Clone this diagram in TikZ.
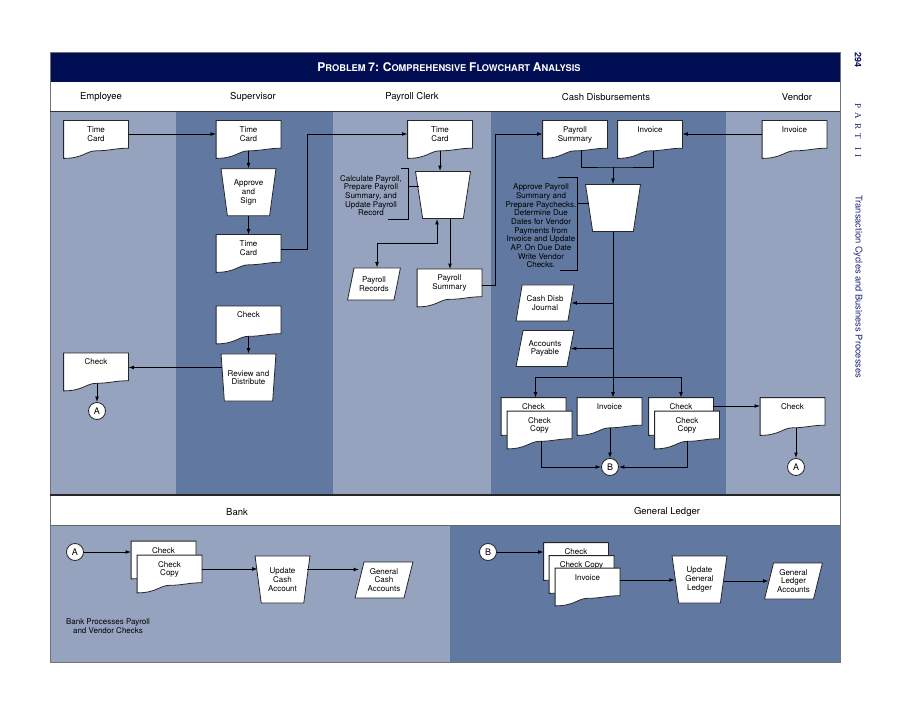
\documentclass[tikz,border=0pt]{standalone}
\usepackage{fontspec}
\setmainfont{TeX Gyre Heros}
\newfontfamily\partfont{Liberation Serif}
\usetikzlibrary{shapes.geometric, arrows, arrows.meta, positioning, calc}
\definecolor{laneLight}{RGB}{150,163,190}
\definecolor{laneDark}{RGB}{97,120,160}
\definecolor{titleBlue}{RGB}{2,14,84}
\definecolor{sideBlue}{RGB}{28,38,118}
\tikzstyle{arrow} = [line width=0.9pt,->,>={Latex[length=5.5pt,width=3.8pt]}]

% fake small caps for the title
\newcommand{\scw}[2]{{\fontsize{12}{12}\selectfont #1}{\fontsize{9.3}{10}\selectfont #2}}

% document symbol with a wavy bottom
\makeatletter
\pgfdeclareshape{docwave}{
  \inheritsavedanchors[from=rectangle]
  \inheritanchorborder[from=rectangle]
  \inheritanchor[from=rectangle]{center}
  \inheritanchor[from=rectangle]{north}
  \inheritanchor[from=rectangle]{south}
  \inheritanchor[from=rectangle]{east}
  \inheritanchor[from=rectangle]{west}
  \inheritanchor[from=rectangle]{north east}
  \inheritanchor[from=rectangle]{north west}
  \inheritanchor[from=rectangle]{south east}
  \inheritanchor[from=rectangle]{south west}
  \anchor{wave}{\southwest \pgf@xa=\pgf@x \pgf@ya=\pgf@y \northeast
    \pgf@x=.5\pgf@x \advance\pgf@x by .5\pgf@xa
    \pgf@y=.2\pgf@y \advance\pgf@y by .8\pgf@ya}
  \backgroundpath{%
    \southwest \edef\doc@xa{\pgf@sys@tonumber{\pgf@x}}\edef\doc@ya{\pgf@sys@tonumber{\pgf@y}}%
    \northeast \edef\doc@xb{\pgf@sys@tonumber{\pgf@x}}\edef\doc@yb{\pgf@sys@tonumber{\pgf@y}}%
    \pgfmathsetmacro\doc@w{\doc@xb-\doc@xa}%
    \pgfmathsetmacro\doc@h{\doc@yb-\doc@ya}%
    \pgfpathmoveto{\pgfpoint{\doc@xa pt}{\doc@yb pt}}%
    \pgfpathlineto{\pgfpoint{\doc@xb pt}{\doc@yb pt}}%
    \pgfpathlineto{\pgfpoint{\doc@xb pt}{(\doc@ya+0.27*\doc@h)*1pt}}%
    \pgfpathcurveto{\pgfpoint{(\doc@xa+0.8*\doc@w)*1pt}{(\doc@ya+0.27*\doc@h)*1pt}}%
      {\pgfpoint{(\doc@xa+0.7*\doc@w)*1pt}{(\doc@ya+0.2*\doc@h)*1pt}}%
      {\pgfpoint{(\doc@xa+0.5*\doc@w)*1pt}{(\doc@ya+0.2*\doc@h)*1pt}}%
    \pgfpathcurveto{\pgfpoint{(\doc@xa+0.35*\doc@w)*1pt}{(\doc@ya+0.2*\doc@h)*1pt}}%
      {\pgfpoint{(\doc@xa+0.3*\doc@w)*1pt}{\doc@ya pt}}%
      {\pgfpoint{\doc@xa pt}{\doc@ya pt}}%
    \pgfpathclose}
}
\makeatother

\begin{document}
\begin{tikzpicture}[x=1pt, y=-1pt,
        every node/.style={font=\fontsize{8}{8.7}\selectfont},
        docbox/.style={shape=docwave, draw=black!85, fill=white, line width=0.8pt, inner sep=0pt,
          execute at begin node={\begin{minipage}[t][37pt][t]{64pt}\centering\rule{0pt}{11.5pt}},
          execute at end node={\end{minipage}}},
        manop/.style={trapezium, shape border rotate=180, trapezium left angle=80, trapezium right angle=80,
          trapezium stretches=true, minimum width=55pt, minimum height=47pt,
          draw=black!85, fill=white, line width=0.8pt, align=center, inner sep=1pt},
        datapara/.style={trapezium, trapezium left angle=73, trapezium right angle=107,
          trapezium stretches=true, minimum width=58pt, minimum height=36pt,
          draw=black!85, fill=white, line width=0.8pt, align=center, inner sep=1pt},
        conn/.style={circle, draw=black!85, fill=white, line width=0.8pt, minimum size=17pt, inner sep=0pt,
          font=\fontsize{9}{9}\selectfont},
        note/.style={align=center, inner sep=0pt},
        lanehead/.style={font=\fontsize{9.5}{10}\selectfont},
        arrow/.style={line width=0.9pt,->,>={Latex[length=5.5pt,width=3.8pt]}},
        link/.style={line width=0.9pt}
      ]
        \useasboundingbox (0,0) rectangle (900,719);

        % Lanes
        \fill[white] (0,0) rectangle (900,719);
        \fill[laneLight] (50,112) rectangle (176,495);
        \fill[laneDark] (176,112) rectangle (333,495);
        \fill[laneLight] (333,112) rectangle (491,495);
        \fill[laneDark] (491,112) rectangle (726,495);
        \fill[laneLight] (726,112) rectangle (840,495);
        \fill[laneLight] (50,525) rectangle (450,662);
        \fill[laneDark] (450,525) rectangle (840,662);
        \fill[titleBlue] (50,52) rectangle (840,82);
        \draw[black!55, line width=0.8pt] (50,52) rectangle (840,662);
        \draw[black!80, line width=1pt] (50,112) -- (840,112);
        \draw[black!85, line width=1.5pt] (50,495) -- (840,495);
        \draw[black!60, line width=0.8pt] (50,525) -- (840,525);

        % Headings
        \node (title) [text=white, font=\bfseries] at (449,67)
          {\scw{P}{ROBLEM} \scw{7:}{} \scw{C}{OMPREHENSIVE} \scw{F}{LOWCHART} \scw{A}{NALYSIS}};
        \node (h_emp) [lanehead] at (101,97) {Employee};
        \node (h_sup) [lanehead] at (253,97) {Supervisor};
        \node (h_pc) [lanehead] at (412,97) {Payroll Clerk};
        \node (h_cd) [lanehead] at (606,97) {Cash Disbursements};
        \node (h_ven) [lanehead] at (797,97) {Vendor};
        \node (h_bank) [lanehead] at (237,512) {Bank};
        \node (h_gl) [lanehead] at (667,512) {General Ledger};

        % Side texts
        \node (page_no) [rotate=-90, text=titleBlue, font=\bfseries\fontsize{9}{9}\selectfont] at (858,60) {294};
        \node (part_no) [rotate=-90, text=sideBlue, font=\partfont\fontsize{9}{9}\selectfont] at (858,131)
          {P\hspace{4pt}A\hspace{4pt}R\hspace{4pt}T\hspace{9pt}I\hspace{4pt}I};
        \node (part_title) [rotate=-90, text=sideBlue, font=\fontsize{9.3}{10}\selectfont] at (858,287)
          {Transaction Cycles and Business Processes};

        % Employee
        \node (emp_tc) [docbox] at (96,139.5) {Time\\Card};
        \node (emp_chk) [docbox] at (96,372) {Check};
        \node (emp_a) [conn] at (97,411) {A};

        % Supervisor
        \node (sup_tc) [docbox] at (248.5,139.5) {Time\\Card};
        \node (sup_approve) [manop, below=10pt of sup_tc] {Approve\\and\\Sign};
        \node (sup_tc2) [docbox] at (248.5,253.5) {Time\\Card};
        \node (sup_chk) [docbox] at (248.5,325) {Check};
        \node (sup_review) [manop] at (248.5,377.5) {Review and\\Distribute};

        % Payroll Clerk
        \node (pc_tc) [docbox] at (440,139.5) {Time\\Card};
        \node (pc_calc) [manop] at (443,195) {};
        \node (pc_note) [note] at (371,195.5) {Calculate Payroll,\\Prepare Payroll\\Summary, and\\Update Payroll\\Record};
        \node (pc_records) [datapara, minimum width=53pt, minimum height=32pt] at (374,284) {Payroll\\Records};
        \node (pc_summary) [docbox] at (449.5,288) {Payroll\\Summary};

        % Cash Disbursements
        \node (cd_ps) [docbox] at (575,139.5) {Payroll\\Summary};
        \node (cd_inv) [docbox] at (650,139.5) {Invoice};
        \node (cd_op) [manop] at (613,208) {};
        \node (cd_note) [note] at (541,226) {Approve Payroll\\Summary and\\Prepare Paychecks.\\Determine Due\\Dates for Vendor\\Payments from\\Invoice and Update\\AP. On Due Date\\Write Vendor\\Checks.};
        \node (cd_journal) [datapara] at (545,303) {Cash Disb\\Journal};
        \node (cd_ap) [datapara] at (545,348.5) {Accounts\\Payable};
        \node (cd_chk) [docbox] at (533.5,416.5) {Check};
        \node (cd_chkcopy) [docbox] at ($(cd_chk)+(6,13.5)$) {Check\\Copy};
        \node (cd_inv2) [docbox] at (609.5,416.5) {Invoice};
        \node (cd_chk2) [docbox] at (681,416.5) {Check};
        \node (cd_chkcopy2) [docbox] at ($(cd_chk2)+(6,13.5)$) {Check\\Copy};
        \node (cd_b) [conn] at (610,467) {B};

        % Vendor
        \node (v_inv) [docbox] at (794.5,139.5) {Invoice};
        \node (v_chk) [docbox] at (792.5,416.5) {Check};
        \node (v_a) [conn] at (796,467) {A};

        % Bank
        \node (bk_a) [conn] at (75,552) {A};
        \node (bk_chk) [docbox] at (163.5,560) {Check};
        \node (bk_chkcopy) [docbox] at ($(bk_chk)+(6,14)$) {Check\\Copy};
        \node (bk_update) [manop] at (282.5,579.5) {Update\\Cash\\Account};
        \node (bk_gca) [datapara] at (384,580) {General\\Cash\\Accounts};
        \node (bk_note) [note] at (108,626) {Bank Processes Payroll\\and Vendor Checks};

        % General Ledger
        \node (gl_b) [conn] at (488,552) {B};
        \node (gl_chk) [docbox] at (576,561.5) {Check};
        \node (gl_chkcopy) [docbox] at ($(gl_chk)+(5.5,13)$) {Check Copy};
        \node (gl_inv) [docbox] at ($(gl_chkcopy)+(6,12.5)$) {Invoice};
        \node (gl_update) [manop] at (699.5,579.5) {Update\\General\\Ledger};
        \node (gl_acc) [datapara] at (793.5,581) {General\\Ledger\\Accounts};

        % Annotation brackets
        \draw[link] (388,219) -- (408,219) -- (408,168) -- (401,168);
        \coordinate (pc_brk) at (408,186);
        \draw[link] (pc_brk) -- (pc_brk -| pc_calc.west);
        \draw[link] (560,270) -- (577,270) -- (577,177) -- (558,177);
        \coordinate (cd_brk) at (577,203);
        \draw[link] (cd_brk) -- (cd_brk -| cd_op.west);

        % Arrows for Employee and Supervisor
        \draw[arrow] ([yshift=5.5pt]emp_tc.east) -- ([yshift=5.5pt]emp_tc.east -| sup_tc.west);
        \draw[arrow] (sup_tc.wave) -- (sup_tc.wave |- sup_approve.north);
        \draw[arrow] (sup_approve.south) -- (sup_tc2.north);
        \draw[arrow] ([yshift=4.5pt]sup_tc2.east) -- ++(27,0) |- ([yshift=5.5pt]pc_tc.west);
        \draw[arrow] (sup_chk.wave) -- (sup_review.north);
        \draw[arrow] ([yshift=10pt]sup_review.west) -- ([yshift=10pt]sup_review.west -| emp_chk.east);
        \draw[arrow] (emp_a |- emp_chk.wave) -- (emp_a.north);

        % Arrows for Payroll Clerk
        \draw[arrow] (pc_tc.wave) -- (pc_tc.wave |- pc_calc.north);
        \draw[arrow] ([xshift=7pt]pc_calc.south) -- ([xshift=7pt]pc_calc.south |- pc_summary.north);
        \draw[arrow, <->] ([xshift=-6pt]pc_calc.south) -- ++(0,25) -| ([xshift=3pt]pc_records.north);
        \draw[arrow] ([yshift=3pt]pc_summary.east) -- ++(14,0) |- ([yshift=5.5pt]cd_ps.west);

        % Arrows for Cash Disbursements
        \draw[arrow] ([yshift=5.5pt]v_inv.west) -- ([yshift=5.5pt]v_inv.west -| cd_inv.east);
        \coordinate (cd_join) at (613,167);
        \draw[link] ($(cd_ps.wave)+(6,0)$) |- (cd_join) -| ($(cd_inv.wave)+(3,0)$);
        \draw[arrow] (cd_join) -- (cd_op.north);
        \coordinate (cd_split) at (613,377);
        \draw[link] (cd_op.south) -- (cd_split);
        \draw[arrow] (cd_split |- cd_journal.east) -- (cd_journal.east);
        \draw[arrow] (cd_split |- cd_ap.east) -- (cd_ap.east);
        \draw[arrow] (cd_split) -- (cd_split |- cd_inv2.north);
        \draw[arrow] (cd_split) -| ([xshift=2pt]cd_chk.north);
        \draw[arrow] (cd_split) -| (cd_chk2.north);
        \draw[arrow] ($(cd_chkcopy.wave)+(1.5,0)$) |- (cd_b.west);
        \draw[arrow] (cd_b |- cd_inv2.wave) -- (cd_b.north);
        \draw[arrow] (cd_chkcopy2.wave) |- (cd_b.east);
        \draw[arrow] ([yshift=10.5pt]cd_chk2.east) -- ([yshift=10.5pt]cd_chk2.east -| v_chk.west);
        \draw[arrow] (v_a |- v_chk.wave) -- (v_a.north);

        % Arrows for Bank and General Ledger
        \draw[arrow] (bk_a.east) -- (bk_a.east -| bk_chk.west);
        \draw[arrow] ([yshift=5pt]bk_chkcopy.east) -- ([yshift=5pt]bk_chkcopy.east -| bk_update.west);
        \draw[arrow] ([yshift=10pt]bk_update.east) -- ([yshift=10pt]bk_update.east -| bk_gca.west);
        \draw[arrow] (gl_b.east) -- (gl_b.east -| gl_chk.west);
        \draw[arrow] ([yshift=7pt]gl_inv.east) -- ([yshift=7pt]gl_inv.east -| gl_update.west);
        \draw[arrow] ([yshift=-1.5pt]gl_update.east) -- ([yshift=-1.5pt]gl_update.east -| gl_acc.west);
      \end{tikzpicture}
\end{document}
